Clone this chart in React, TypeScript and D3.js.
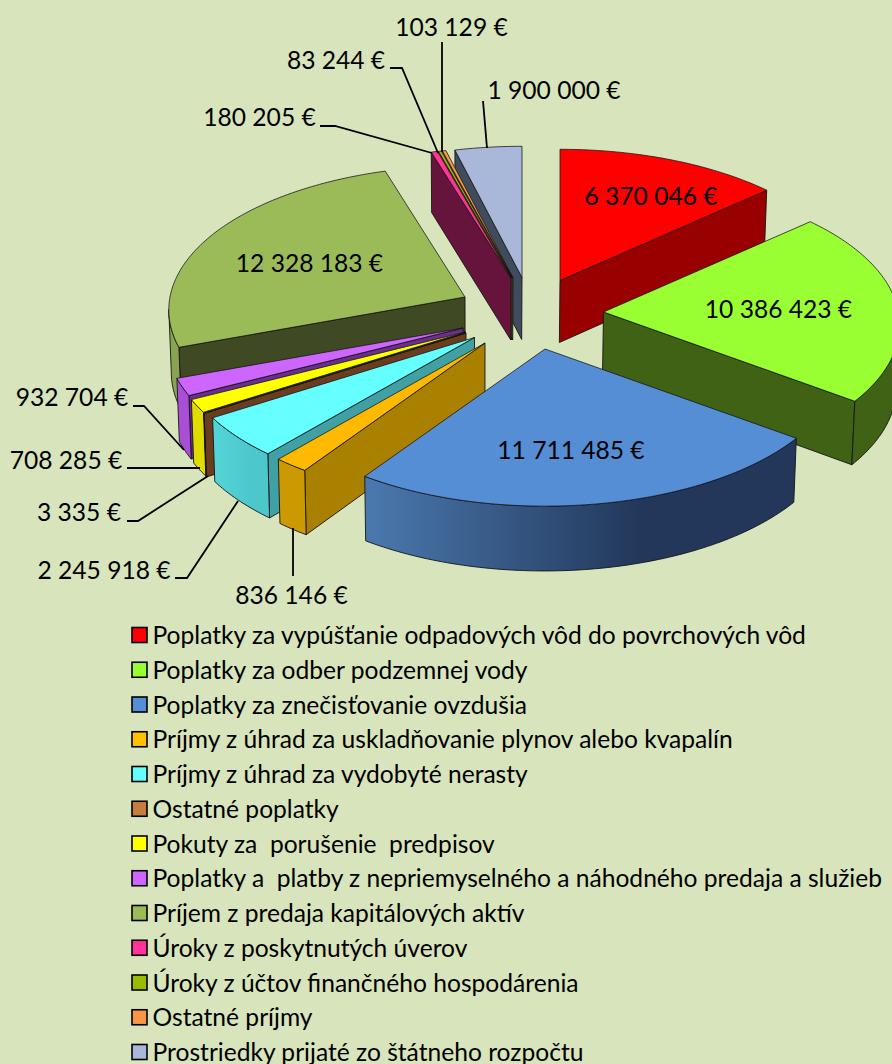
import React from "react";
import * as d3 from "d3";

const categories = [
  "Poplatky za vypúšťanie odpadových vôd do povrchových vôd",
  "Poplatky za odber podzemnej vody",
  "Poplatky za znečisťovanie ovzdušia",
  "Príjmy z úhrad za uskladňovanie plynov alebo kvapalín",
  "Príjmy z úhrad za vydobyté nerasty",
  "Ostatné poplatky",
  "Pokuty za  porušenie  predpisov",
  "Poplatky a  platby z nepriemyselného a náhodného predaja a služieb",
  "Príjem z predaja kapitálových aktív",
  "Úroky z poskytnutých úverov",
  "Úroky z účtov finančného hospodárenia",
  "Ostatné príjmy",
  "Prostriedky prijaté zo štátneho rozpočtu",
];
const values = [6370046, 10386423, 11711485, 836146, 2245918, 3335, 708285, 932704, 12328183, 180205, 83244, 103129, 1900000];

const topColors = ["#ff0000", "#99ff33", "#558ed5", "#ffba00", "#66ffff", "#6b3d1e", "#ffff00", "#cc66ff", "#9bbb59", "#ff3399", "#99bb00", "#f79646", "#a9b8d9"];
const legendColors = ["#ff0000", "#99ff33", "#558ed5", "#ffc000", "#66ffff", "#c77c3f", "#ffff00", "#cc66ff", "#9bbb59", "#ff3399", "#99bb00", "#f79646", "#a9b8d9"];
const cutColors = ["#990000", "#3f6214", "#33537f", "#aa8000", "#40a0a4", "#6b3d1e", "#8c8a00", "#6a2e8c", "#3f4924", "#66143c", "#5c7000", "#94592a", "#414b5e"];
const rimLeft = ["#990000", "#3f6214", "#4a78ad", "#cc9900", "#55d5d8", "#6b3d1e", "#e0dc00", "#b356e0", "#8aa350", "#cc2a7a", "#7a9500", "#c67838", "#8793ad"];
const rimRight = ["#990000", "#3f6214", "#22375a", "#cc9900", "#4cc8cc", "#6b3d1e", "#e0dc00", "#a94fd6", "#8aa350", "#cc2a7a", "#7a9500", "#c67838", "#8793ad"];

// Where each dragged-out slice's tip sits on the page.
const tipX = [560, 603.5, 545, 485, 474.5, 466, 465.5, 463, 465, 511, 512, 513, 522];
const tipY = [280.5, 312, 349, 343, 337.5, 333, 332, 328, 297, 278, 278, 278, 277.5];
const paintOrder = [0, 12, 11, 10, 9, 8, 1, 7, 6, 5, 4, 3, 2];

const valueLabels = [
  { t: "6 370 046 €", x: 651, y: 196 },
  { t: "10 386 423 €", x: 778.5, y: 309 },
  { t: "11 711 485 €", x: 571, y: 450 },
  { t: "12 328 183 €", x: 309.5, y: 263 },
  { t: "836 146 €", x: 291.5, y: 595 },
  { t: "2 245 918 €", x: 104, y: 570 },
  { t: "3 335 €", x: 79, y: 512 },
  { t: "708 285 €", x: 66, y: 460 },
  { t: "932 704 €", x: 72, y: 397 },
  { t: "180 205 €", x: 259.5, y: 117 },
  { t: "83 244 €", x: 336, y: 60 },
  { t: "103 129 €", x: 451.5, y: 27 },
  { t: "1 900 000 €", x: 554, y: 90 },
];
const leaders: [number, number][][] = [
  [[293, 576], [293, 528]],
  [[175, 578], [187, 578], [238, 501]],
  [[127, 521], [138, 521], [208, 476]],
  [[127, 468], [200, 468]],
  [[133, 406], [144, 406], [184, 450]],
  [[320, 126], [335, 126], [432, 153]],
  [[390, 68], [402, 68], [438, 153]],
  [[442, 42], [442, 152]],
  [[483, 101], [487, 148]],
];

const W = 892, H = 1064;
const RX = 295, RY = 143, PERSP = 0.09, WALL = 62;
const FONT = "Lato, Carlito, Calibri, sans-serif";
const FS = 24.6;

const arcs = d3.pie<number>().sort(null).startAngle(0).endAngle(2 * Math.PI)(values);
const line = d3.line<[number, number]>().x((d) => d[0]).y((d) => d[1]);
const rowY = d3.scaleLinear().domain([0, categories.length - 1]).range([635, 1052]);

function rim(i: number, a: number): [number, number] {
  const depth = -Math.cos(a);
  const s = 1 / (1 - PERSP * depth);
  return [tipX[i] + RX * Math.sin(a) * s, tipY[i] + RY * depth * s];
}
const side = (a: number[], b: number[], p: number[]) => (b[0] - a[0]) * (p[1] - a[1]) - (b[1] - a[1]) * (p[0] - a[0]);
// Walls converge slightly and grow toward the viewer.
const drop = (p: [number, number]): [number, number] => [p[0] + (480 - p[0]) * 0.008, p[1] + WALL * (1 + (p[1] - 280) * 0.0002)];

function sample(i: number, a0: number, a1: number) {
  const n = Math.max(2, Math.ceil(((a1 - a0) * 180) / Math.PI));
  return d3.range(n + 1).map((k) => rim(i, a0 + ((a1 - a0) * k) / n));
}

function Slice({ i }: { i: number }) {
  const { startAngle: a0, endAngle: a1 } = arcs[i];
  const tip: [number, number] = [tipX[i], tipY[i]];
  const pts = sample(i, a0, a1);
  const mid = pts[Math.floor(pts.length / 2)];
  const midIn: [number, number] = [(mid[0] + tip[0]) / 2 + (pts[0][0] + pts[pts.length - 1][0] - 2 * tip[0]) / 8, (mid[1] + tip[1]) / 2 + (pts[0][1] + pts[pts.length - 1][1] - 2 * tip[1]) / 8];
  const stroke = "#141414";
  const walls: React.ReactNode[] = [];
  [pts[0], pts[pts.length - 1]].forEach((p, k) => {
    const down = [tip[0], tip[1] + 1];
    const sA = side(tip, p, midIn), sB = side(tip, p, down);
    if (sA * sB < 0) {
      const q: [number, number][] = [tip, p, drop(p), drop(tip)];
      walls.push(<path key={"c" + k} d={line(q) + "Z"} fill={cutColors[i]} stroke={stroke} strokeWidth={0.9} strokeLinejoin="round" />);
    }
  });
  const runs: [number, number][][] = [];
  let cur: [number, number][] = [];
  for (let k = 0; k < pts.length - 1; k++) {
    const a = pts[k], b = pts[k + 1];
    const vis = side(a, b, tip) * side(a, b, [a[0], a[1] + 1]) < 0;
    if (vis) {
      if (!cur.length) cur.push(a);
      cur.push(b);
    } else if (cur.length) {
      runs.push(cur);
      cur = [];
    }
  }
  if (cur.length) runs.push(cur);
  runs.forEach((r, k) => {
    const q = [...r, ...r.slice().reverse().map(drop)];
    walls.push(<path key={"r" + k} d={line(q) + "Z"} fill={`url(#rim${i})`} stroke={stroke} strokeWidth={0.9} strokeLinejoin="round" />);
  });
  return (
    <g>
      {walls}
      <path d={line([tip, ...pts]) + "Z"} fill={topColors[i]} stroke={stroke} strokeWidth={0.9} strokeOpacity={0.85} strokeLinejoin="round" />
    </g>
  );
}

export default function App() {
  return (
    <svg width={W} height={H} viewBox={`0 0 ${W} ${H}`} style={{ position: "absolute", left: 0, top: 0, display: "block", overflow: "hidden" }}>
      <defs>
        {values.map((_, i) => (
          <linearGradient key={i} id={`rim${i}`} gradientUnits="userSpaceOnUse" x1={tipX[i] + RX * Math.sin(arcs[i].endAngle) * 1.05} x2={tipX[i] + RX * Math.sin(arcs[i].startAngle) * 1.05} y1={0} y2={0}>
            <stop offset="0" stopColor={rimLeft[i]} />
            <stop offset="0.64" stopColor={rimRight[i]} />
            <stop offset="1" stopColor={rimRight[i]} />
          </linearGradient>
        ))}
      </defs>
      <rect width={W} height={H} fill="#d8e4bc" />
      {paintOrder.map((i) => (
        <Slice key={i} i={i} />
      ))}
      {leaders.map((l, i) => (
        <path key={i} d={line(l) ?? ""} fill="none" stroke="#000" strokeWidth={1.8} />
      ))}
      <g fontFamily={FONT} fontSize={FS} fill="#000" textAnchor="middle">
        {valueLabels.map((l) => (
          <text key={l.t} x={l.x} y={l.y + 9}>{l.t}</text>
        ))}
      </g>
      <g fontFamily={FONT} fontSize={FS} fill="#000">
        {categories.map((c, i) => (
          <g key={c}>
            <rect x={132} y={rowY(i) - 7.5} width={15} height={15} fill={legendColors[i]} stroke="#000" strokeWidth={1.6} />
            <text x={152.5} y={rowY(i) + 9} xmlSpace="preserve" style={{ whiteSpace: "pre" }}>{c}</text>
          </g>
        ))}
      </g>
    </svg>
  );
}
